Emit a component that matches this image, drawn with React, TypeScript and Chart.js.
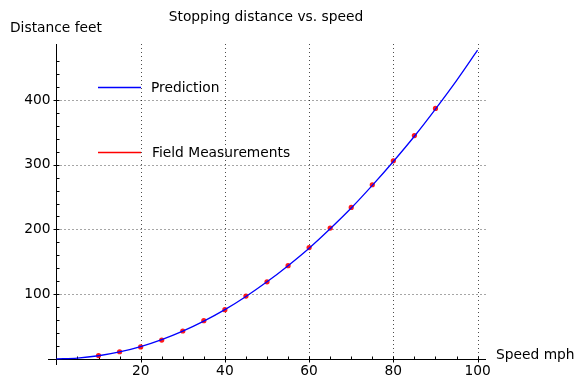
import React, { useEffect, useRef } from "react";
import Chart from "chart.js/auto";

const titleText = "Stopping distance vs. speed";
const xAxisLabel = "Speed mph";
const yAxisLabel = "Distance feet";

const predSpeeds = [0, 5, 10, 15, 20, 25, 30, 35, 40, 45, 50, 55, 60, 65, 70, 75, 80, 85, 90, 95, 100];
const predicted = [0, 1.2, 4.8, 10.7, 19, 29.8, 42.9, 58.3, 76, 96.4, 119, 144, 171, 201, 233, 268, 305, 344, 386, 430, 477];

const fieldSpeeds = [10, 15, 20, 25, 30, 35, 40, 45, 50, 55, 60, 65, 70, 75, 80, 85, 90];
const measured = [5, 11, 18.5, 29, 43, 59, 76, 97, 119, 144, 172, 202, 234, 269, 306, 345, 387];

const xMajorTicks = [20, 40, 60, 80, 100];
const xMinorTicks = [5, 10, 15, 25, 30, 35, 45, 50, 55, 65, 70, 75, 85, 90, 95];
const yMajorTicks = [100, 200, 300, 400];
const yMinorTicks = [20, 40, 60, 80, 120, 140, 160, 180, 220, 240, 260, 280, 320, 340, 360, 380, 420, 440, 460];

const legendLabels = ["Prediction", "Field Measurements"];
const legendColors = ["#0000ff", "#ff0000"];

const FONT = "13.8px 'DejaVu Sans', sans-serif";

const sagePlugin = {
  id: "sageAxes",
  beforeDatasetsDraw(chart: any) {
    const ctx = chart.ctx;
    const xs = chart.scales.x;
    const ys = chart.scales.y;
    const area = chart.chartArea;
    const x0 = Math.round(xs.getPixelForValue(0)) + 0.5;
    const y0 = Math.round(ys.getPixelForValue(0)) + 0.5;
    ctx.save();
    // grid
    ctx.strokeStyle = "rgba(0,0,0,0.7)";
    ctx.lineWidth = 1;
    ctx.setLineDash([1, 3]);
    xMajorTicks.forEach((v) => {
      const px = Math.round(xs.getPixelForValue(v)) + 0.5;
      ctx.beginPath();
      ctx.moveTo(px, area.top);
      ctx.lineTo(px, y0);
      ctx.stroke();
    });
    yMajorTicks.forEach((v) => {
      const py = Math.round(ys.getPixelForValue(v)) + 0.5;
      ctx.beginPath();
      ctx.moveTo(x0, py);
      ctx.lineTo(area.right, py);
      ctx.stroke();
    });
    ctx.setLineDash([]);
    // axes
    ctx.strokeStyle = "#000";
    ctx.lineWidth = 1;
    ctx.beginPath();
    ctx.moveTo(area.left, y0);
    ctx.lineTo(area.right, y0);
    ctx.moveTo(x0, area.top);
    ctx.lineTo(x0, area.bottom);
    ctx.stroke();
    // ticks
    ctx.beginPath();
    xMajorTicks.forEach((v) => {
      const px = Math.round(xs.getPixelForValue(v)) + 0.5;
      ctx.moveTo(px, y0 - 3);
      ctx.lineTo(px, y0 + 3);
    });
    xMinorTicks.forEach((v) => {
      const px = Math.round(xs.getPixelForValue(v)) + 0.5;
      ctx.moveTo(px, y0 - 3);
      ctx.lineTo(px, y0);
    });
    yMajorTicks.forEach((v) => {
      const py = Math.round(ys.getPixelForValue(v)) + 0.5;
      ctx.moveTo(x0 - 3, py);
      ctx.lineTo(x0 + 3, py);
    });
    yMinorTicks.forEach((v) => {
      const py = Math.round(ys.getPixelForValue(v)) + 0.5;
      ctx.moveTo(x0, py);
      ctx.lineTo(x0 + 3, py);
    });
    ctx.stroke();
    // tick labels
    ctx.fillStyle = "#000";
    ctx.font = FONT;
    ctx.textAlign = "center";
    ctx.textBaseline = "middle";
    xMajorTicks.forEach((v) => {
      ctx.fillText(String(v), xs.getPixelForValue(v), y0 + 12);
    });
    ctx.textAlign = "right";
    yMajorTicks.forEach((v) => {
      ctx.fillText(String(v), x0 - 6, ys.getPixelForValue(v));
    });
    // axis labels and title
    ctx.textAlign = "left";
    ctx.fillText(yAxisLabel, 10, 28);
    ctx.fillText(xAxisLabel, 496, 355);
    ctx.textAlign = "center";
    ctx.fillText(titleText, 266, 17);
    // legend
    const legendY = [87, 152];
    const legendTextX = [151, 152];
    legendLabels.forEach((label, i) => {
      ctx.strokeStyle = legendColors[i];
      ctx.lineWidth = 1.3;
      ctx.beginPath();
      ctx.moveTo(98, legendY[i] + 0.5);
      ctx.lineTo(141, legendY[i] + 0.5);
      ctx.stroke();
      ctx.textAlign = "left";
      ctx.fillStyle = "#000";
      ctx.fillText(label, legendTextX[i], legendY[i] + 1);
    });
    ctx.restore();
  },
};

export default function App() {
  const canvasRef = useRef<HTMLCanvasElement | null>(null);

  useEffect(() => {
    document.body.style.margin = "0";
    const canvas = canvasRef.current;
    if (!canvas) return;
    const chart = new Chart(canvas, {
      type: "scatter",
      data: {
        datasets: [
          {
            label: legendLabels[0],
            data: predSpeeds.map((x, i) => ({ x, y: predicted[i] })),
            showLine: true,
            borderColor: legendColors[0],
            backgroundColor: legendColors[0],
            borderWidth: 1.3,
            pointRadius: 0,
            cubicInterpolationMode: "monotone",
          },
          {
            label: legendLabels[1],
            data: fieldSpeeds.map((x, i) => ({ x, y: measured[i] })),
            showLine: false,
            backgroundColor: "rgba(255,0,0,0.9)",
            borderWidth: 0,
            pointRadius: 2.6,
          },
        ],
      },
      options: {
        responsive: false,
        animation: false,
        devicePixelRatio: 1,
        layout: { padding: { left: 48, right: 97, top: 44, bottom: 20 } },
        scales: {
          x: { type: "linear", min: -2, max: 102, display: false },
          y: { type: "linear", min: -9.5, max: 486.5, display: false },
        },
        plugins: {
          legend: { display: false },
          tooltip: { enabled: false },
          title: { display: false },
        },
      },
      plugins: [sagePlugin],
    } as any);
    return () => chart.destroy();
  }, []);

  return (
    <div style={{ position: "absolute", left: 0, top: 0, width: 583, height: 385 }}>
      <canvas ref={canvasRef} width={583} height={385} />
    </div>
  );
}
